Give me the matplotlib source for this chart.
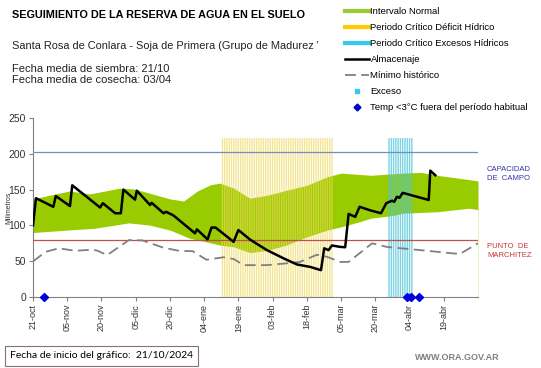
import matplotlib
matplotlib.use("Agg")
from matplotlib import pyplot as plt
from matplotlib.lines import Line2D
from matplotlib.patches import Rectangle

plt.rcParams['font.family'] = ['Liberation Sans', 'DejaVu Sans']

# day offsets from 21-oct-2024
tick_days = [0, 15, 30, 45, 60, 75, 90, 105, 120, 135, 150, 165, 180]
tick_labels = ['21-oct', '05-nov', '20-nov', '05-dic', '20-dic', '04-ene', '19-ene',
               '03-feb', '18-feb', '05-mar', '20-mar', '04-abr', '19-abr']

alm_days = [0, 1.3, 8.9, 10, 16.2, 17.2, 29.4, 30.6, 36, 38.5, 39.6, 44.7, 45.5, 51.3, 52,
            57.2, 58.3, 61.5, 71, 71.8, 76.5, 78.2, 80, 87.9, 90, 95.2, 102.5, 109.8, 115.6,
            121.5, 126.2, 127.6, 129.5, 131, 134.6, 136.8, 138.3, 141.2, 143.1, 147.8, 152.5,
            154.8, 157.3, 158.3, 159.5, 160.6, 162, 173.4, 174.1, 176.3]
alm_mm = [100, 138, 126, 141, 127, 156, 125, 131, 117, 117, 150, 136, 148.5, 128.5, 131.5,
          117, 119, 114, 89, 94.5, 80.5, 97, 97, 77, 93.5, 80, 65.5, 54, 45.5,
          42, 37.5, 68, 65.5, 72, 70, 69.5, 116, 112, 126, 121, 117,
          131, 134.5, 133, 140, 138.5, 145.5, 135.5, 176.5, 170]

up_days = [0, 7, 16, 25, 38, 44, 50, 60, 66, 72, 78, 82, 88, 95, 102.5, 111, 120, 129, 135,
           148, 162, 170, 177, 184, 191, 195]
up_mm = [137, 142, 148, 144, 152, 151, 146, 137, 134, 148, 157, 159, 152, 138, 142, 149, 156,
         168, 173, 170, 173, 174, 170, 167, 164, 162]

lo_days = [0, 15, 27, 42, 51, 60, 68.7, 76, 82, 88, 95, 102.5, 111, 120, 129, 135, 143, 148,
           158, 162, 173, 177, 184, 191, 195]
lo_mm = [90, 93.5, 96, 103.5, 100.5, 93.5, 82, 77, 72.5, 70, 62, 65, 72.5, 84, 93.5, 98, 105,
         110, 114, 117, 118.5, 119, 121.5, 124, 122]

min_days = [0, 1, 5.4, 11.3, 18.6, 25.2, 28, 32.5, 42, 48, 57, 64, 70, 76, 83.5, 88, 92.3,
            102.5, 111, 117, 124.4, 129, 134.6, 138.3, 148.6, 155, 169.6, 187, 195]
min_mm = [50, 52, 63, 68, 64.5, 66, 65, 58.5, 79.5, 79, 69, 64.5, 64, 52, 55.5, 53, 44.5,
          44.5, 47, 49, 59, 56, 49, 49, 75, 70, 65.5, 60, 75]

deficit_days = list(range(83, 132))
exceso_days = list(range(156, 167))
frio_days = [4.7, 164, 165.6, 169]

capacidad = 202
marchitez = 80
franja_top = 222

fig = plt.figure(figsize=(5.41, 3.68), dpi=100)
ax = fig.add_axes([33 / 541, 71 / 368, 445 / 541, 179 / 368])

# green band: fill up to the upper limit, then blank out below the lower limit
ax.fill_between(up_days, 0, up_mm, color='#99CC00', lw=0, zorder=1)
ax.fill_between(lo_days, 0, lo_mm, color='white', lw=0, zorder=1)
ax.bar(deficit_days, [franja_top] * len(deficit_days), width=0.6, color='#EFD85A', alpha=0.65,
       lw=0, zorder=2, snap=False)
ax.bar(exceso_days, [franja_top] * len(exceso_days), width=0.6, color='#4CC4DA', alpha=0.75,
       lw=0, zorder=2, snap=False)
ax.axhline(capacidad, color='#7090C0', lw=0.9, zorder=3)
ax.axhline(marchitez, color='#C0504D', lw=0.9, zorder=3)
ax.plot(min_days, min_mm, color='#808080', lw=1.3, dashes=(6, 3), zorder=4)
ax.plot(alm_days, alm_mm, color='black', lw=1.8, zorder=5)
ax.plot(frio_days, [0] * len(frio_days), 'D', color='#0000DD', ms=4.5, zorder=6, clip_on=False)

ax.set_xlim(0, 195)
ax.set_ylim(0, 250)
ax.set_yticks([0, 50, 100, 150, 200, 250])
ax.set_xticks(tick_days)
ax.set_xticklabels(tick_labels, rotation=90, fontsize=6.5, color='#333333')
ax.tick_params(axis='y', labelsize=7.5, labelcolor='#333333', length=3, color='#808080', pad=2)
ax.tick_params(axis='x', length=3, color='#808080', pad=2)
for s in ['top', 'right']:
    ax.spines[s].set_visible(False)
for s in ['left', 'bottom']:
    ax.spines[s].set_color('#808080')
ax.set_ylabel('Milimetros', fontsize=5, color='#333333')
ax.yaxis.set_label_coords(-0.047, 0.5)

fig.text(12 / 541, 1 - 15 / 368, 'SEGUIMIENTO DE LA RESERVA DE AGUA EN EL SUELO',
         fontsize=7.8, fontweight='bold', va='center')
sub = fig.text(12 / 541, 1 - 46 / 368,
               'Santa Rosa de Conlara - Soja de Primera (Grupo de Madurez V)',
               fontsize=7.9, va='center', color='#222222')
sub.set_clip_on(True)
sub.set_clip_path(Rectangle((0, 0), 318 / 541, 1, transform=fig.transFigure))
fig.text(12 / 541, 1 - 69 / 368, 'Fecha media de siembra: 21/10', fontsize=8, va='center',
         color='#222222')
fig.text(12 / 541, 1 - 80 / 368, 'Fecha media de cosecha: 03/04', fontsize=8, va='center',
         color='#222222')

fig.text(487 / 541, 1 - 174 / 368, 'CAPACIDAD\nDE  CAMPO', fontsize=5.5, color='#3333AA',
         va='center', linespacing=1.3)
fig.text(487 / 541, 1 - 251 / 368, 'PUNTO  DE\nMARCHITEZ', fontsize=5.5, color='#CC3333',
         va='center', linespacing=1.3)

fig.text(10 / 541, 1 - 356 / 368, 'Fecha de inicio del gráfico:  21/10/2024',
         fontsize=7.5, family='Lato', va='center',
         bbox=dict(boxstyle='square,pad=0.5', fc='white', ec='#8B7070', lw=0.8))
fig.text(500 / 541, 1 - 358 / 368, 'WWW.ORA.GOV.AR', fontsize=6.5, color='#808080',
         ha='right', va='center', fontweight='bold')

handles = [
    Line2D([], [], color='#99CC33', lw=3),
    Line2D([], [], color='#FFCC00', lw=3),
    Line2D([], [], color='#33CCEE', lw=3),
    Line2D([], [], color='black', lw=1.8),
    Line2D([], [], color='#808080', lw=1.3, dashes=(6, 3)),
    Line2D([], [], color='#33CCEE', marker='s', ms=2.5, ls='none'),
    Line2D([], [], color='#0000CC', marker='D', ms=3.5, ls='none'),
]
labels = ['Intervalo Normal', 'Periodo Crítico Déficit Hídrico',
          'Periodo Crítico Excesos Hídricos', 'Almacenaje', 'Mínimo histórico', 'Exceso',
          'Temp <3°C fuera del período habitual']
fig.legend(handles, labels, loc='upper left', bbox_to_anchor=(345 / 541, 1 - 7 / 368),
           frameon=False, fontsize=6.8, borderpad=0, borderaxespad=0, labelspacing=0.74,
           handlelength=2.5, handletextpad=0.2)

fig.savefig('out.png', dpi=100)
